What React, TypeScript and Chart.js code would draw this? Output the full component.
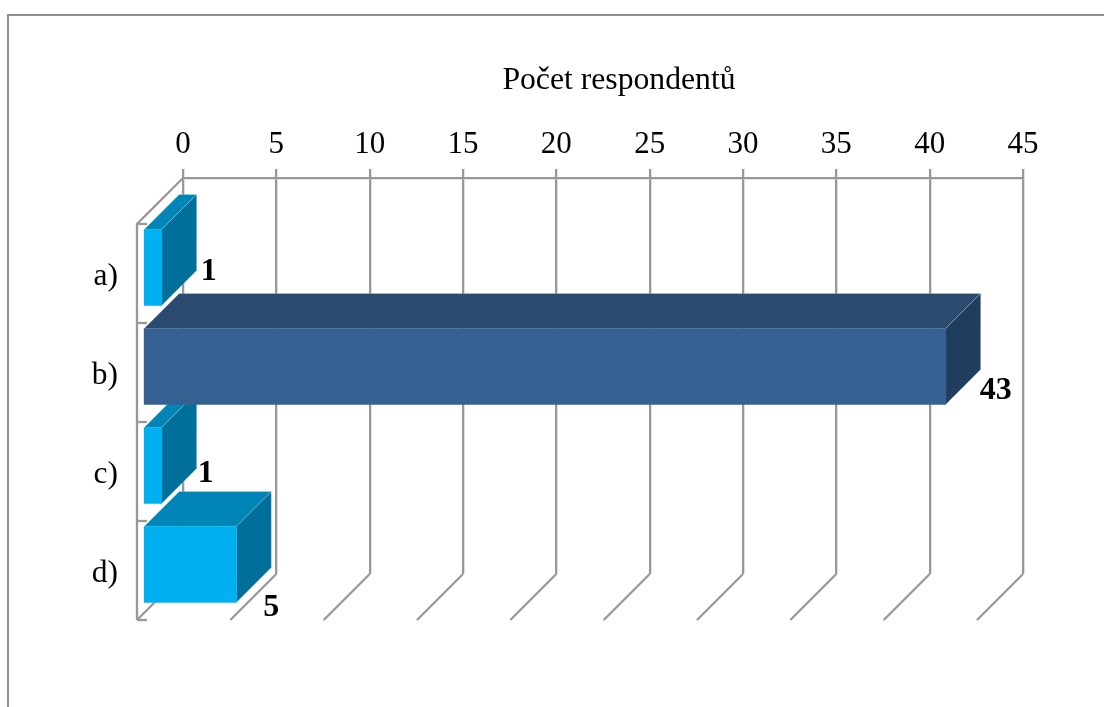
import React, { useEffect, useRef } from "react";
import { Chart, registerables } from "chart.js";

Chart.register(...registerables);

const categories = ["a)", "b)", "c)", "d)"];
const respondents = [1, 43, 1, 5];
const axisTicks = [0, 5, 10, 15, 20, 25, 30, 35, 40, 45];
const axisTitle = "Počet respondentů";

const frontColors = ["#00B0F0", "#376092", "#00B0F0", "#00B0F0"];
const topColors = ["#0085B6", "#2A4A70", "#0085B6", "#0085B6"];
const sideColors = ["#006F99", "#213D5E", "#006F99", "#006F99"];

// Nudges of the value labels from the front-right corner of each bar's centre
const labelNudges = [
  [47, 4],
  [50, 24],
  [44, 8],
  [35, 43],
];

const SERIF = "'Liberation Serif', 'Times New Roman', serif";
const GREY = "#989898";
const WALL = 46; // depth of the floor and side wall
const BAR_SHIFT = 40; // bars stand this far in front of the back wall
const BAR_DEPTH = 35;

const poly = (ctx: CanvasRenderingContext2D, pts: number[][], fill: string) => {
  ctx.beginPath();
  pts.forEach(([x, y], i) => (i ? ctx.lineTo(x, y) : ctx.moveTo(x, y)));
  ctx.closePath();
  ctx.fillStyle = fill;
  ctx.fill();
  ctx.strokeStyle = "rgba(255,255,255,0.2)";
  ctx.lineWidth = 1;
  ctx.stroke();
};

const stroke = (ctx: CanvasRenderingContext2D, pts: number[][]) => {
  ctx.beginPath();
  pts.forEach(([x, y], i) => (i ? ctx.lineTo(x, y) : ctx.moveTo(x, y)));
  ctx.stroke();
};

// Draws the frame, the floor and side wall behind the plot, and the axis title
const framePlugin = {
  id: "frame",
  beforeDatasetsDraw(chart: any) {
    const { ctx, chartArea: a, scales } = chart;
    ctx.save();
    ctx.strokeStyle = "#8E8E8E";
    ctx.lineWidth = 2;
    stroke(ctx, [[8, 707], [8, 15], [1104, 15]]);

    ctx.strokeStyle = GREY;
    ctx.lineWidth = 2.3;
    axisTicks.forEach((t) => {
      const x = scales.x.getPixelForValue(t);
      stroke(ctx, [[x, a.bottom], [x - WALL, a.bottom + WALL]]);
    });
    const wx = a.left - WALL;
    stroke(ctx, [[a.left, a.top], [wx, a.top + WALL], [wx, a.bottom + WALL]]);
    const band = (a.bottom - a.top) / categories.length;
    for (let i = 0; i <= categories.length; i++) {
      const y = a.top + WALL + band * i;
      stroke(ctx, [[wx, y], [wx + 10, y]]);
    }

    ctx.fillStyle = "#000";
    ctx.font = `31.7px ${SERIF}`;
    ctx.textAlign = "center";
    ctx.textBaseline = "middle";
    ctx.fillText(axisTitle, 619, 81);
    ctx.restore();
  },
};

// Extrudes each bar into a box; the lower boxes are painted first so upper ones overlap them
const boxPlugin = {
  id: "boxes",
  beforeDatasetDraw(chart: any, args: any) {
    const { ctx, chartArea } = chart;
    const bars = args.meta.data;
    for (let i = bars.length - 1; i >= 0; i--) {
      const bar = bars[i];
      const half = bar.height / 2;
      const l = bar.base - BAR_SHIFT;
      const r = bar.x - BAR_SHIFT;
      const t = bar.y + BAR_SHIFT - half;
      const b = bar.y + BAR_SHIFT + half;
      const d = BAR_DEPTH;
      ctx.save();
      poly(ctx, [[l, t], [l + d, t - d], [r + d, t - d], [r, t]], topColors[i]);
      poly(ctx, [[r, t], [r + d, t - d], [r + d, b - d], [r, b]], sideColors[i]);
      ctx.translate(-BAR_SHIFT, BAR_SHIFT);
      bar.draw(ctx, chartArea);
      ctx.restore();
    }
    return false;
  },
  afterDatasetsDraw(chart: any) {
    const { ctx } = chart;
    const bars = chart.getDatasetMeta(0).data;
    ctx.save();
    ctx.fillStyle = "#000";
    ctx.font = `bold 32px ${SERIF}`;
    ctx.textAlign = "center";
    ctx.textBaseline = "middle";
    bars.forEach((bar: any, i: number) => {
      const [dx, dy] = labelNudges[i];
      ctx.fillText(String(respondents[i]), bar.x - BAR_SHIFT + dx, bar.y + BAR_SHIFT + dy);
    });
    ctx.restore();
  },
};

export default function App() {
  const canvasRef = useRef<HTMLCanvasElement>(null);

  useEffect(() => {
    const chart = new Chart(canvasRef.current!, {
      type: "bar",
      data: {
        labels: categories,
        datasets: [
          {
            data: respondents,
            backgroundColor: frontColors,
            borderWidth: 0,
            barThickness: 76,
          },
        ],
      },
      options: {
        indexAxis: "y",
        responsive: false,
        animation: false,
        layout: { padding: { left: 0, top: 0, right: 81, bottom: 133 } },
        plugins: { legend: { display: false }, tooltip: { enabled: false } },
        scales: {
          x: {
            position: "top",
            min: 0,
            max: 45,
            afterFit: (s: any) => {
              s.height = 178;
            },
            ticks: {
              stepSize: 5,
              autoSkip: false,
              maxRotation: 0,
              color: "#000",
              padding: 6,
              font: { family: SERIF, size: 31 },
            },
            grid: { color: GREY, lineWidth: 2.3, tickLength: 9, drawTicks: true },
            border: { display: true, color: GREY, width: 2.3 },
          },
          y: {
            afterFit: (s: any) => {
              s.width = 183;
            },
            ticks: {
              color: "#000",
              padding: 65,
              labelOffset: 49,
              font: { family: SERIF, size: 31.5 },
            },
            grid: { display: false, drawTicks: false },
            border: { display: false },
          },
        },
      },
      plugins: [framePlugin, boxPlugin],
    } as any);
    return () => chart.destroy();
  }, []);

  return (
    <div style={{ position: "fixed", left: 0, top: 0, width: 1104, height: 707, background: "#fff" }}>
      <canvas ref={canvasRef} width={1104} height={707} style={{ display: "block" }} />
    </div>
  );
}
